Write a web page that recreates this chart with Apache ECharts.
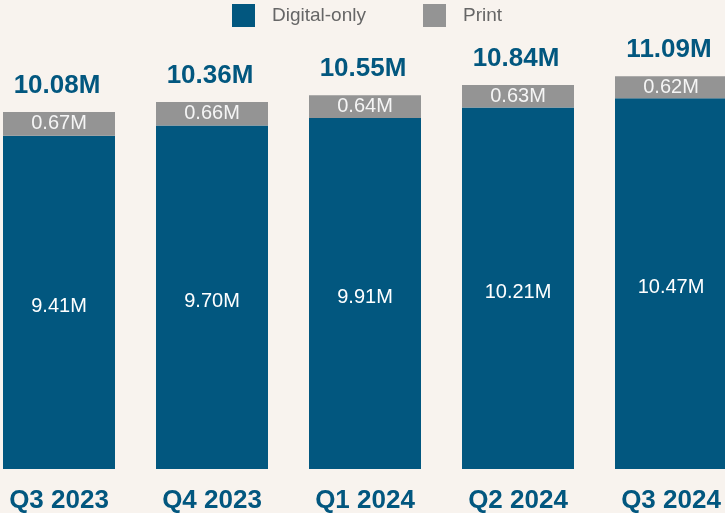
<!DOCTYPE html>
<html>
<head>
<meta charset="utf-8">
<script src="https://cdn.jsdelivr.net/npm/echarts@6/dist/echarts.min.js"></script>
<style>
  html, body { margin: 0; padding: 0; background: #f8f3ee; }
  #chart { width: 725px; height: 513px; }
</style>
</head>
<body>
<div id="chart"></div>
<script>
// data
var quarters = ['Q3 2023', 'Q4 2023', 'Q1 2024', 'Q2 2024', 'Q3 2024'];
var digitalOnly = [9.41, 9.70, 9.91, 10.21, 10.47];
var printSubs = [0.67, 0.66, 0.64, 0.63, 0.62];
var totals = [10.08, 10.36, 10.55, 10.84, 11.09];

var blue = '#02577f';
var grey = '#949494';
var font = '"Liberation Sans", Arial, sans-serif';

var myChart = echarts.init(document.getElementById('chart'));
var option = {
  backgroundColor: '#f8f3ee',
  animation: false,
  legend: {
    data: ['Digital-only', 'Print'],
    top: 4,
    left: 232,
    padding: 0,
    itemWidth: 23,
    itemHeight: 23,
    itemGap: 57,
    icon: 'rect',
    textStyle: { color: '#666', fontSize: 19, fontFamily: font, padding: [0, 0, 0, 12] }
  },
  grid: { left: -17.5, right: -22.5, top: 44, bottom: 44, containLabel: false, outerBoundsMode: 'none' },
  xAxis: {
    type: 'category',
    data: quarters,
    axisLine: { show: false },
    axisTick: { show: false },
    axisLabel: {
      color: blue, fontSize: 26, fontWeight: 'bold', fontFamily: font, margin: 19
    }
  },
  yAxis: {
    type: 'value',
    min: 0,
    max: 12,
    show: false,
    splitLine: { show: false }
  },
  series: [
    {
      name: 'Digital-only',
      type: 'bar',
      stack: 'subs',
      barWidth: 112,
      data: digitalOnly,
      itemStyle: { color: blue },
      label: {
        show: true, position: 'inside', offset: [0, 4], color: '#fff', fontSize: 20, fontFamily: font,
        formatter: function (p) { return p.value.toFixed(2) + 'M'; }
      }
    },
    {
      name: 'Print',
      type: 'bar',
      stack: 'subs',
      barWidth: 112,
      data: printSubs,
      itemStyle: { color: grey },
      label: {
        show: true, position: 'inside', color: '#f5f5f5', fontSize: 20, fontFamily: font,
        formatter: function (p) { return p.value.toFixed(2) + 'M'; }
      }
    },
    {
      name: 'Total',
      type: 'line',
      data: totals,
      symbol: 'circle',
      symbolSize: 1,
      showSymbol: true,
      itemStyle: { color: 'transparent' },
      lineStyle: { width: 0, color: 'transparent' },
      label: {
        show: true, position: 'top', distance: 13, offset: [-2, 0], color: blue, fontSize: 26,
        fontWeight: 'bold', fontFamily: font,
        formatter: function (p) { return p.value.toFixed(2) + 'M'; }
      }
    }
  ]
};
myChart.setOption(option);
</script>
</body>
</html>
